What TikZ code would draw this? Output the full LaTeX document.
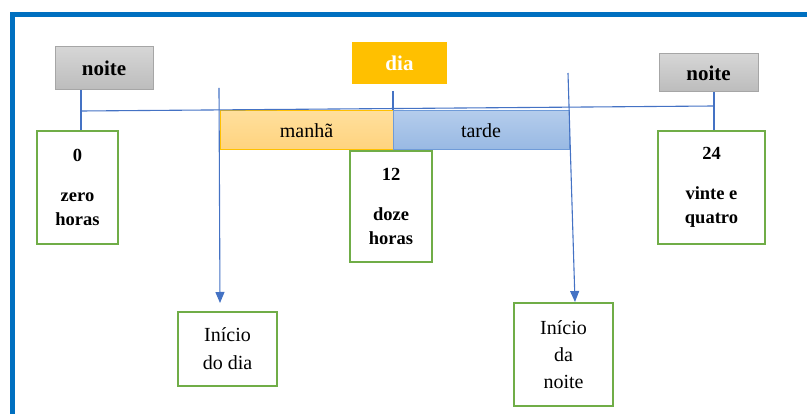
\documentclass[tikz,border=0pt]{standalone}
\usepackage{fontspec}
\setmainfont{Liberation Serif}
\usetikzlibrary{arrows.meta}
\definecolor{frameblue}{HTML}{0070C0}
\definecolor{linkblue}{HTML}{4472C4}
\definecolor{boxgreen}{HTML}{70AD47}
\definecolor{gold}{HTML}{FFC000}
\definecolor{grayborder}{HTML}{A6A6A6}
\definecolor{graytop}{HTML}{D6D6D6}
\definecolor{graybot}{HTML}{BCBCBC}
\definecolor{ortop}{HTML}{FFDF9C}
\definecolor{orbot}{HTML}{FFD37E}
\definecolor{bltop}{HTML}{B4CCEC}
\definecolor{blbot}{HTML}{98B9E3}
\definecolor{blborder}{HTML}{6F9BD8}
\tikzset{
  greenbox/.style={draw=boxgreen, line width=2.6pt, fill=white, inner sep=0pt, align=center, font=\fontsize{20}{27}\selectfont},
  greenboxb/.style={greenbox, font=\fontsize{18.5}{24}\selectfont\bfseries},
  graybox/.style={draw=grayborder, line width=1pt, top color=graytop, bottom color=graybot, inner sep=0pt, font=\fontsize{21}{24}\selectfont\bfseries},
  link/.style={draw=linkblue, line width=1.1pt},
  arrowlink/.style={link, -{Triangle[width=9pt,length=11pt]}}
}
\begin{document}
\begin{tikzpicture}[x=1pt,y=-1pt]
\useasboundingbox (0,0) rectangle (807,414);
% frame
\draw[frameblue, line width=5pt] (12.5,420) -- (12.5,14.5) -- (815,14.5);
% gray noite boxes
\node[graybox, minimum width=98pt, minimum height=43pt] (n1) at (104,68.5) {noite};
\node[graybox, minimum width=99pt, minimum height=38pt] (n2) at (708.5,73) {noite};
% dia
\node[fill=gold, text=white, inner sep=0pt, minimum width=95pt, minimum height=42pt, font=\fontsize{21}{24}\selectfont\bfseries] (dia) at (399.5,63) {dia};
% manha / tarde
\node[draw=gold, line width=1pt, top color=ortop, bottom color=orbot, inner sep=0pt, minimum width=173pt, minimum height=39pt, font=\fontsize{20}{24}\selectfont] (manha) at (306.5,130.5) {manhã};
\node[draw=blborder, line width=1pt, top color=bltop, bottom color=blbot, inner sep=0pt, minimum width=176pt, minimum height=39pt, font=\fontsize{20}{24}\selectfont] (tarde) at (481,130.5) {tarde};
% timeline
\coordinate (hl) at (81,111);
\coordinate (hr) at (714,106);
\draw[link] (hl) -- (hr);
% green boxes
\node[greenboxb, minimum width=81pt, minimum height=113pt] (z0) at (77.5,187.5) {0\\[16pt]zero\\horas};
\node[greenboxb, minimum width=82pt, minimum height=111pt] (z12) at (391,206.5) {12\\[16pt]doze\\horas};
\node[greenboxb, minimum width=107pt, minimum height=113pt] (z24) at (711.5,187.5) {24\\[16pt]vinte e\\quatro};
\node[greenbox, minimum width=99pt, minimum height=74pt, font=\fontsize{20}{28}\selectfont] (idia) at (227.5,349) {Início\\do dia};
\node[greenbox, minimum width=99pt, minimum height=103pt] (inoite) at (563.5,354.5) {Início\\da\\noite};
% connectors
\draw[link] (n1.south -| hl) -- (z0.north -| hl);
\draw[link] (n2.south -| hr) -- (z24.north -| hr);
\coordinate (diab) at (393,91);
\draw[link] (diab) -- (diab |- manha.north);
\coordinate (adtop) at (219,88);
\coordinate (adtip) at (220,303);
\draw[arrowlink] (adtop) -- (adtip);
\coordinate (antop) at (568,73);
\coordinate (antip) at (575,302);
\draw[arrowlink] (antop) -- (antip);
\end{tikzpicture}
\end{document}
